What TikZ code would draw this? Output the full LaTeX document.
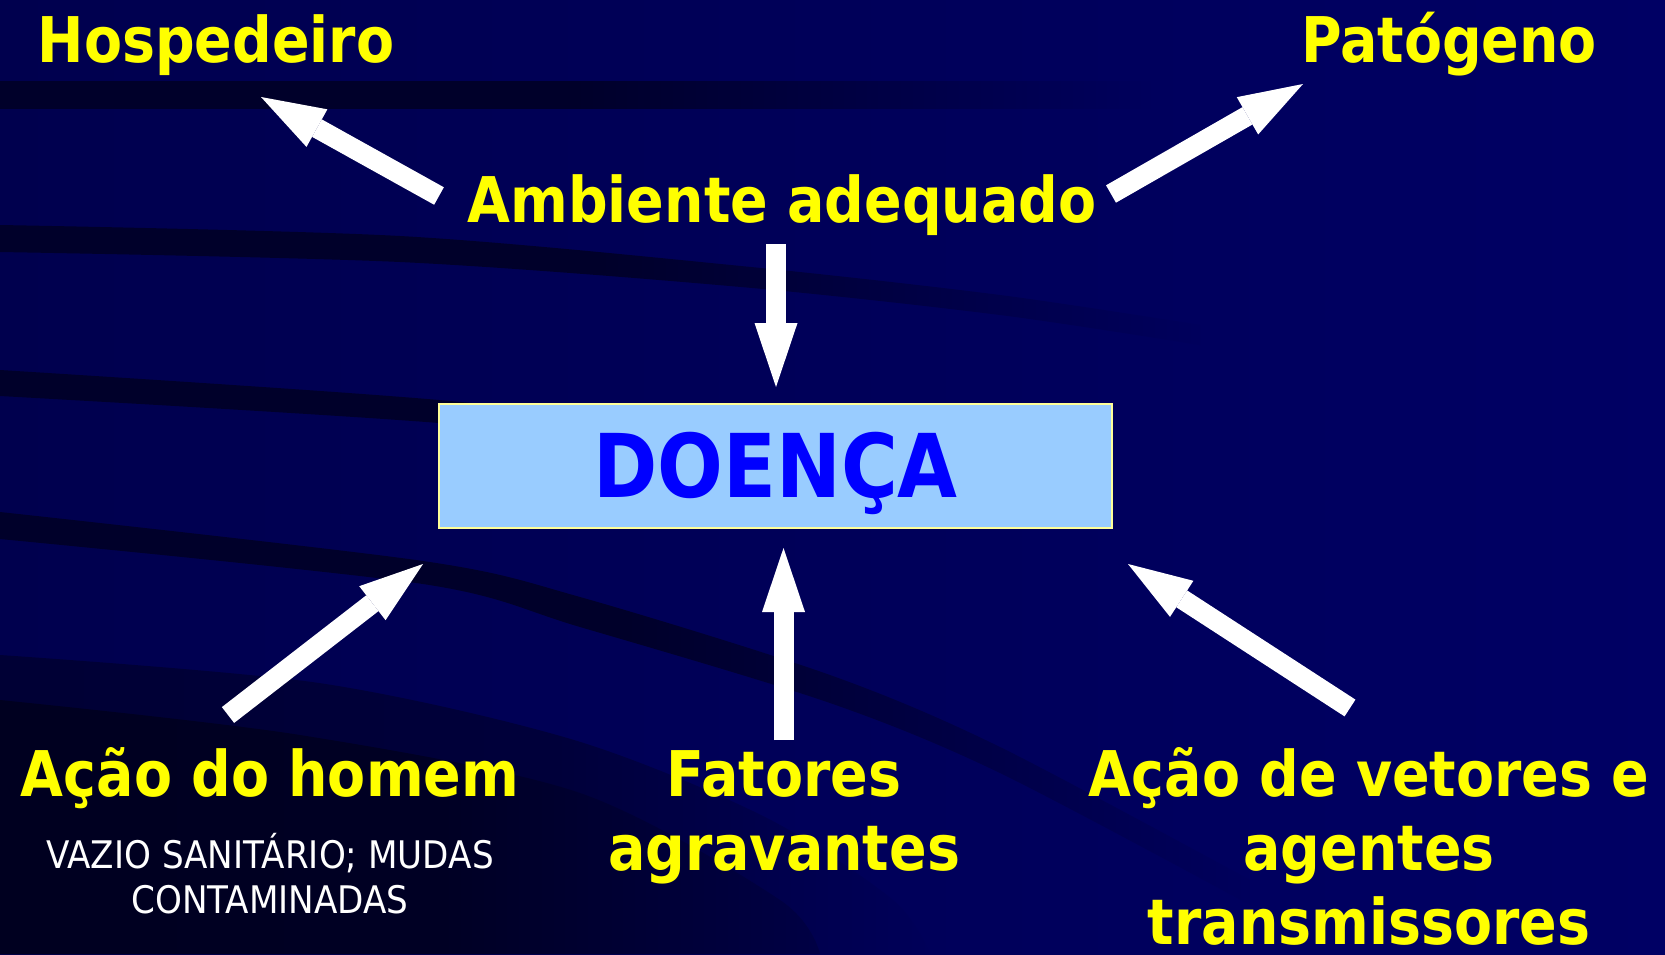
\documentclass[tikz,border=0pt]{standalone}
\usepackage{fontspec}
\usetikzlibrary{arrows.meta}
\newfontfamily\tahb[FakeStretch=0.88]{DejaVu Sans}
\newfontfamily\tahr[FakeStretch=0.9]{DejaVu Sans}
\definecolor{bgL}{HTML}{00004E}
\definecolor{bgR}{HTML}{000064}
\colorlet{bgM}{bgL!35!bgR}
\colorlet{bgMl}{bgL!50!bgR}
\definecolor{bandc}{HTML}{00002A}
\definecolor{darkA}{HTML}{000030}
\definecolor{darkB}{HTML}{00001C}
\definecolor{yel}{HTML}{FFFF00}
\definecolor{boxblue}{HTML}{99CCFF}
\definecolor{boxedge}{HTML}{FFFF99}
\definecolor{doencablue}{HTML}{0000FF}
% the visible part of a TikZ shade is 25bp..75bp
\pgfdeclarehorizontalshading{bandshade}{100bp}{color(0bp)=(bandc); color(50bp)=(bandc); color(75bp)=(bgM); color(100bp)=(bgM)}
\pgfdeclarehorizontalshading{darkAshade}{100bp}{color(0bp)=(darkA); color(55bp)=(darkA!75!bgMl); color(75bp)=(bgMl); color(100bp)=(bgMl)}
\pgfdeclarehorizontalshading{darkBshade}{100bp}{color(0bp)=(darkB); color(52bp)=(darkB!60!darkA); color(75bp)=(darkA!50!bgMl); color(100bp)=(darkA!50!bgMl)}
\tikzset{
  lbl/.style={font=\tahb\bfseries\fontsize{63}{74}\selectfont, text=yel, inner sep=0pt, anchor=base},
  sublbl/.style={font=\tahr\fontsize{38}{45}\selectfont, text=white, inner sep=0pt, anchor=base},
  doencabox/.style={fill=boxblue, draw=boxedge, line width=2pt, minimum width=673pt, minimum height=124pt,
    inner sep=0pt, text height=64pt, text depth=0pt, font=\tahb\bfseries\fontsize{88}{100}\selectfont, text=doencablue},
  blockarr/.style={draw=white, line width=20pt, -{Triangle[length=64pt,width=43pt,line width=0pt]}},
  bandfill/.style={shading=bandshade}
}
\begin{document}
\begin{tikzpicture}[x=1pt,y=-1pt]
\useasboundingbox (0,0) rectangle (1665,954);
% background
\shade[left color=bgL, right color=bgR] (0,0) rectangle (1665,954);
\shade[bandfill] (0,81) rectangle (1150,108);
\shade[bandfill] plot[smooth] coordinates {(0,225) (400,236) (741,266) (1000,295) (1200,325)}
  -- plot[smooth] coordinates {(1200,345) (1000,315) (741,287) (400,262) (0,252)} -- cycle;
\shade[bandfill] plot[smooth] coordinates {(0,370) (439,400) (800,440) (1100,480)}
  -- plot[smooth] coordinates {(1100,500) (800,460) (439,423) (0,396)} -- cycle;
\shade[bandfill] plot[smooth] coordinates {(0,512) (423,561) (580,597) (830,675) (1000,747) (1250,880)}
  -- plot[smooth] coordinates {(1250,905) (1000,773) (830,703) (580,627) (423,584) (0,539)} -- cycle;
\shade[shading=darkAshade] plot[smooth] coordinates {(0,655) (319,683) (574,740) (765,817) (893,900) (930,954)} -- (0,954) -- cycle;
\shade[shading=darkBshade] plot[smooth] coordinates {(0,700) (300,735) (580,793) (780,900) (820,954)} -- (0,954) -- cycle;

% nodes
\node[lbl] (hosp) at (216,62) {Hospedeiro};
\node[lbl] (pat) at (1449,62) {Patógeno};
\node[lbl] (amb) at (782,222) {Ambiente adequado};
\node[doencabox] (doenca) at (775.5,465.5) {DOENÇA};
\node[lbl] (acao) at (270,796) {Ação do homem};
\node[sublbl] (vazio) at (270,868) {\begin{tabular}[t]{@{}c@{}}VAZIO SANITÁRIO; MUDAS\\CONTAMINADAS\end{tabular}};
\node[lbl] (fat) at (784,796) {\begin{tabular}[t]{@{}c@{}}Fatores\\agravantes\end{tabular}};
\node[lbl] (vet) at (1369,796) {\begin{tabular}[t]{@{}c@{}}Ação de vetores e\\agentes\\transmissores\end{tabular}};

% arrow ends
\coordinate (a1s) at (439,196); \coordinate (a1e) at (261,97);
\coordinate (a2s) at (1111,194); \coordinate (a2e) at (1303,84);
\coordinate (a3s) at (776,244); \coordinate (a3e) at (776,387);
\coordinate (a4s) at (783.5,740); \coordinate (a4e) at (783.5,548);
\coordinate (a5s) at (228,715); \coordinate (a5e) at (423,564);
\coordinate (a6s) at (1350,708); \coordinate (a6e) at (1128,564);
\draw[blockarr] (a1s) -- (a1e);
\draw[blockarr] (a2s) -- (a2e);
\draw[blockarr] (a3s) -- (a3e);
\draw[blockarr] (a4s) -- (a4e);
\draw[blockarr] (a5s) -- (a5e);
\draw[blockarr] (a6s) -- (a6e);
\end{tikzpicture}
\end{document}
